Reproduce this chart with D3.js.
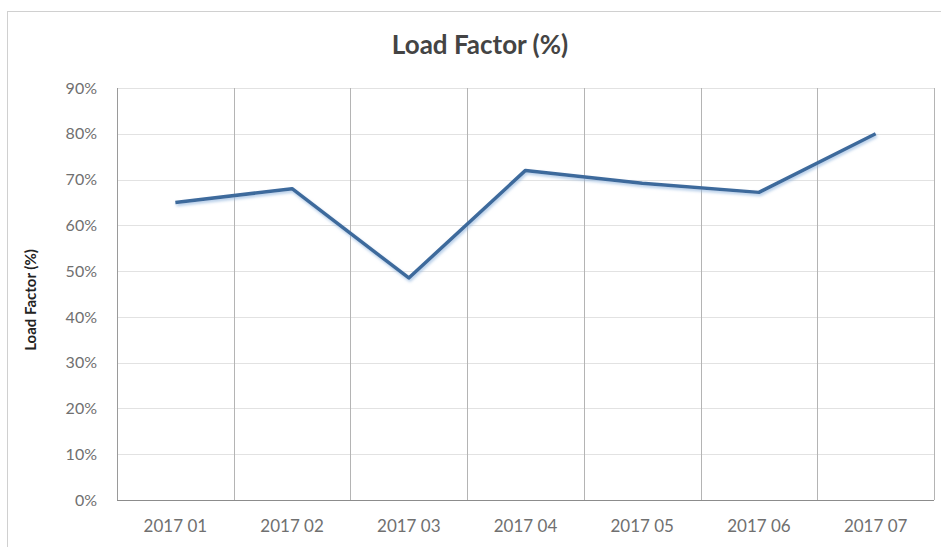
<!DOCTYPE html>
<html>
<head>
<meta charset="utf-8">
<script src="https://cdn.jsdelivr.net/npm/d3@7"></script>
<style>
  html, body { margin: 0; padding: 0; background: #fff; }
  svg { display: block; font-family: Lato, "Open Sans", sans-serif; }
</style>
</head>
<body>
<div id="chart"></div>
<script>
// Data
const months = ['2017 01', '2017 02', '2017 03', '2017 04', '2017 05', '2017 06', '2017 07'];
const loadFactor = [0.65, 0.68, 0.485, 0.72, 0.692, 0.672, 0.80];
const yTicks = [0, 0.1, 0.2, 0.3, 0.4, 0.5, 0.6, 0.7, 0.8, 0.9];

const W = 941, H = 547;
const plot = { left: 117, right: 934, top: 88, bottom: 500 };

const svg = d3.select('#chart').append('svg')
    .attr('width', W).attr('height', H);

// drop shadow for the line
const defs = svg.append('defs');
const f = defs.append('filter').attr('id', 'shadow')
    .attr('x', '-5%').attr('y', '-20%').attr('width', '110%').attr('height', '140%');
f.append('feDropShadow').attr('dx', 1).attr('dy', 2).attr('stdDeviation', 1.6)
    .attr('flood-color', '#8fb4dd').attr('flood-opacity', 0.7);

// chart frame
svg.append('rect')
    .attr('x', 7.5).attr('y', 11.5).attr('width', W).attr('height', H)
    .attr('fill', '#fff').attr('stroke', '#d0d0d0');

const x = d3.scaleBand().domain(months).range([plot.left, plot.right]);
const y = d3.scaleLinear().domain([0, 0.9]).range([plot.bottom, plot.top]);

// horizontal gridlines
svg.append('g').selectAll('line').data(yTicks.slice(1)).join('line')
    .attr('x1', plot.left).attr('x2', plot.right)
    .attr('y1', d => Math.round(y(d)) + 0.5).attr('y2', d => Math.round(y(d)) + 0.5)
    .attr('stroke', '#e2e2e2').attr('stroke-width', 1);

// vertical gridlines at category boundaries
const bounds = months.map(m => x(m)).concat([plot.right]);
svg.append('g').selectAll('line').data(bounds).join('line')
    .attr('x1', d => Math.round(d) + 0.5).attr('x2', d => Math.round(d) + 0.5)
    .attr('y1', plot.top).attr('y2', plot.bottom)
    .attr('stroke', (d, i) => i === 0 ? '#9a9a9a' : '#b4b4b4').attr('stroke-width', 1);

// x axis line
svg.append('line')
    .attr('x1', plot.left).attr('x2', plot.right)
    .attr('y1', plot.bottom + 0.5).attr('y2', plot.bottom + 0.5)
    .attr('stroke', '#8c8c8c').attr('stroke-width', 1.2);

// y tick labels
const yAxis = d3.axisLeft(y).tickValues(yTicks).tickFormat(d3.format('.0%')).tickSize(0).tickPadding(20);
const gy = svg.append('g').attr('transform', `translate(${plot.left},0)`).call(yAxis);
gy.select('.domain').remove();
gy.selectAll('text').attr('fill', '#707070').style('font-size', '16px')
    .style('font-family', 'Lato, sans-serif');

// x tick labels
const xAxis = d3.axisBottom(x).tickSize(0).tickPadding(20);
const gx = svg.append('g').attr('transform', `translate(0,${plot.bottom})`).call(xAxis);
gx.select('.domain').remove();
gx.selectAll('text').attr('fill', '#707070').style('font-size', '17px')
    .style('font-family', 'Lato, sans-serif');

// line
const line = d3.line()
    .x((d, i) => x(months[i]) + x.bandwidth() / 2)
    .y(d => y(d));

svg.append('path')
    .datum(loadFactor)
    .attr('d', line)
    .attr('fill', 'none')
    .attr('stroke', '#3e6a9c')
    .attr('stroke-width', 3.5)
    .attr('stroke-linejoin', 'round')
    .attr('filter', 'url(#shadow)');

// titles
svg.append('text')
    .attr('x', 480).attr('y', 54)
    .attr('text-anchor', 'middle')
    .attr('fill', '#444')
    .style('font-size', '26px').style('font-weight', 'bold')
    .text('Load Factor (%)');

svg.append('text')
    .attr('transform', `translate(36,${(plot.top + plot.bottom) / 2 + 6}) rotate(-90)`)
    .attr('text-anchor', 'middle')
    .attr('fill', '#222')
    .style('font-size', '15px').style('font-weight', 'bold')
    .text('Load Factor (%)');
</script>
</body>
</html>
